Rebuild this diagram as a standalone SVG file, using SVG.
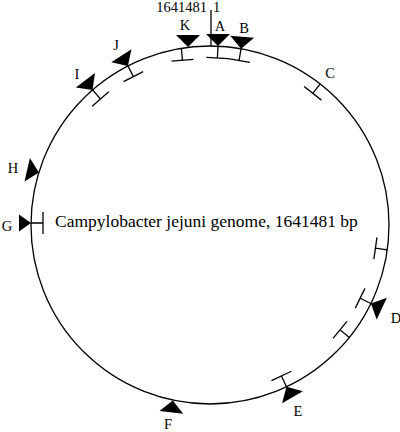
<svg xmlns="http://www.w3.org/2000/svg" width="400" height="432" viewBox="0 0 400 432">
<defs>
<style>
.ln{fill:none;stroke:#000;stroke-width:1.3}
.tri{fill:#000;stroke:none}
.lb{font-family:"Liberation Serif","Times New Roman",serif;font-size:14.5px;fill:#000;text-anchor:middle}
.big{font-family:"Liberation Serif","Times New Roman",serif;font-size:17.5px;fill:#000}
</style>
<path id="tr" d="M0,0 L-12,-12 L12,-12 Z"/>
<path id="trs" d="M0,0 L-8.5,-12 L8.5,-12 Z"/>
<path id="tk" d="M0,0 L0,12 M-11,12 L11,12"/>
</defs>
<rect width="400" height="432" fill="#fff"/>
<g id="genome">
<circle class="ln" cx="210" cy="225" r="179"/>
<text class="big" x="55" y="227">Campylobacter jejuni genome, 1641481 bp</text>
</g>
<g id="origin">
<line class="ln" x1="211" y1="10" x2="211" y2="46"/>
<text class="lb" x="207" y="12" style="text-anchor:end">1641481</text>
<text class="lb" x="213" y="12" style="text-anchor:start">1</text>
</g>
<g id="connectors">
<use href="#tk" class="ln" transform="translate(218,46) rotate(3)"/>
<use href="#tk" class="ln" transform="translate(181.4,48.3) rotate(-5)"/>
<use href="#tk" class="ln" transform="translate(241.1,48.7) rotate(10)"/>
<use href="#tk" class="ln" transform="translate(320.2,83.9) rotate(38)"/>
<use href="#tk" class="ln" transform="translate(127.9,65.9) rotate(-27)"/>
<use href="#tk" class="ln" transform="translate(92.6,89.9) rotate(-41)"/>
<use href="#tk" class="ln" transform="translate(31,223) rotate(-90)"/>
<use href="#tk" class="ln" transform="translate(286.5,386.8) rotate(155)"/>
<use href="#tk" class="ln" transform="translate(349.3,337.4) rotate(129)"/>
<use href="#tk" class="ln" transform="translate(370.9,303.5) rotate(116)"/>
<use href="#tk" class="ln" transform="translate(387.3,249.9) rotate(98)"/>
</g>
<g id="A"><use href="#tr" class="tri" transform="translate(218,46)"/><text class="lb" x="220" y="31">A</text></g>
<g id="B"><use href="#tr" class="tri" transform="translate(241.1,48.7) rotate(5)"/><text class="lb" x="244" y="33">B</text></g>
<g id="C"><text class="lb" x="330" y="78">C</text></g>
<g id="D"><use href="#tr" class="tri" transform="translate(370.9,303.5) rotate(115)"/><text class="lb" x="396" y="323">D</text></g>
<g id="E"><use href="#tr" class="tri" transform="translate(286.5,386.8) rotate(150)"/><text class="lb" x="298" y="416">E</text></g>
<g id="F"><use href="#tr" class="tri" transform="translate(172.8,400.5) rotate(187)"/><text class="lb" x="168" y="429">F</text></g>
<g id="G"><use href="#trs" class="tri" transform="translate(31,223) rotate(-90)"/><text class="lb" x="7" y="231">G</text></g>
<g id="H"><use href="#tr" class="tri" transform="translate(38.9,172.4) rotate(-77)"/><text class="lb" x="13" y="173">H</text></g>
<g id="I"><use href="#tr" class="tri" transform="translate(92.6,89.9) rotate(-37)"/><text class="lb" x="77" y="79">I</text></g>
<g id="J"><use href="#tr" class="tri" transform="translate(127.9,65.9) rotate(-33)"/><text class="lb" x="116" y="50">J</text></g>
<g id="K"><use href="#tr" class="tri" transform="translate(188,47)"/><text class="lb" x="185" y="30">K</text></g>
</svg>
